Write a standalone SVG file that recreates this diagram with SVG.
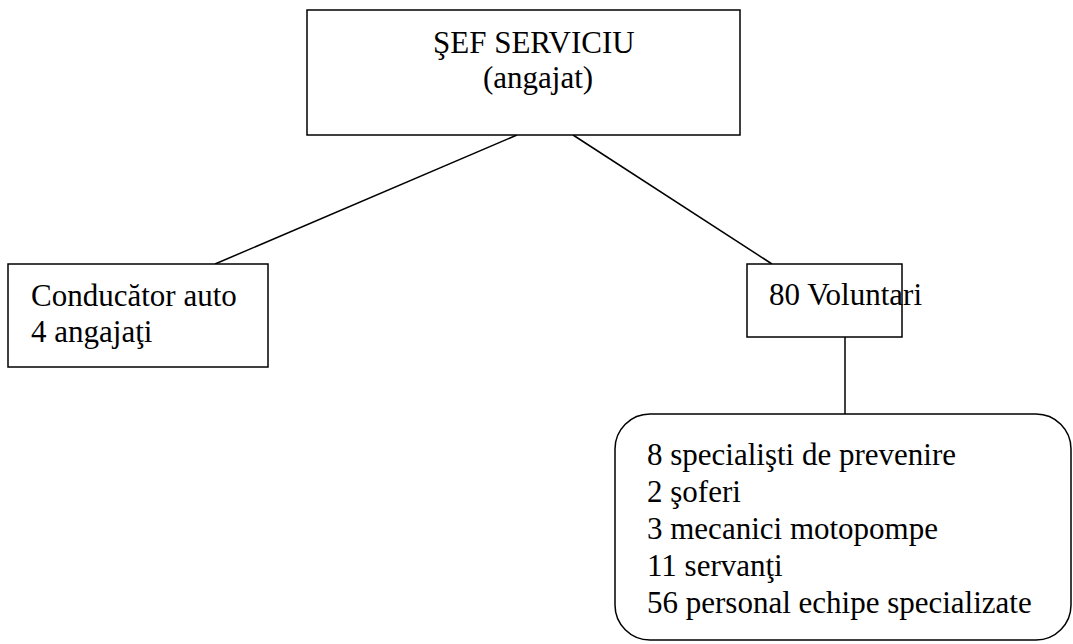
<svg xmlns="http://www.w3.org/2000/svg" width="1073" height="644" viewBox="0 0 1073 644">
<style>
.box{fill:#fff;stroke:#000;stroke-width:1.5}
.t{font-family:'Liberation Serif','DejaVu Serif',serif;font-size:31px;fill:#000}
.c{stroke:#000;stroke-width:1.5;fill:none}
</style>
<rect width="1073" height="644" fill="#fff"/>
<g id="connectors">
<line class="c" x1="517" y1="135" x2="215" y2="264"/>
<line class="c" x1="573" y1="135" x2="772" y2="264"/>
<line class="c" x1="845" y1="337" x2="845" y2="414"/>
</g>
<g id="sef">
<rect class="box" x="307" y="10" width="433" height="125"/>
<text class="t" x="433" y="53" font-family="Liberation Serif">ŞEF SERVICIU</text>
<text class="t" x="483" y="88">(angajat)</text>
</g>
<g id="conducator">
<rect class="box" x="8" y="264" width="260" height="103"/>
<text class="t" x="31" y="306">Conducător auto</text>
<text class="t" x="31" y="342">4 angajaţi</text>
</g>
<g id="voluntari">
<rect class="box" x="747" y="264" width="155" height="73"/>
<text class="t" x="769" y="305">80 Voluntari</text>
</g>
<g id="detalii">
<rect class="box" x="615" y="414" width="456" height="226" rx="35" ry="35"/>
<text class="t" x="647" y="465">8 specialişti de prevenire</text>
<text class="t" x="647" y="502">2 şoferi</text>
<text class="t" x="647" y="539">3 mecanici motopompe</text>
<text class="t" x="647" y="576">11 servanţi</text>
<text class="t" x="647" y="613">56 personal echipe specializate</text>
</g>
</svg>
